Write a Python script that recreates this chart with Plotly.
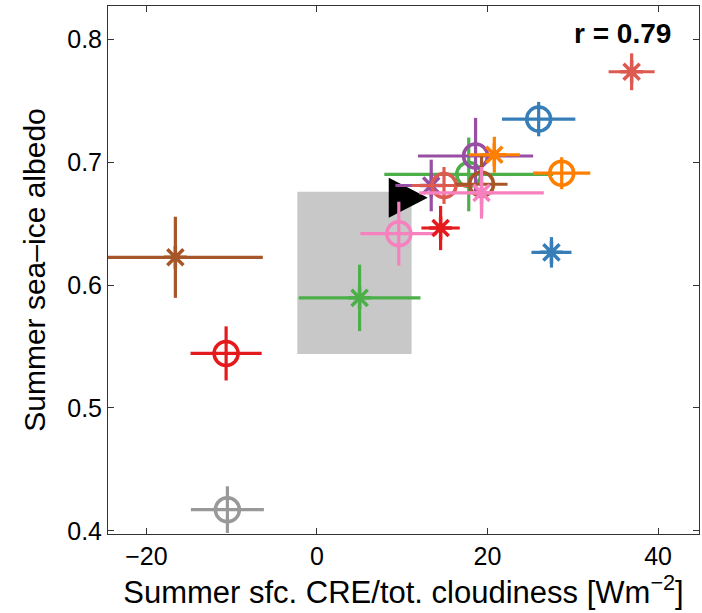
import plotly.graph_objects as go

# ---- data ----
cre       = [-10.5, -16.6, -10.65, 5.0, 9.6, 17.8, 18.6, 13.4, 14.9, 14.5, 19.3, 19.3, 20.8, 28.7, 26.0, 27.5, 36.9]
albedo    = [0.4173, 0.6226, 0.5444, 0.5896, 0.6418, 0.690, 0.705, 0.681, 0.681, 0.6464, 0.682, 0.675, 0.706, 0.691, 0.735, 0.6266, 0.7735]
cre_err   = [4.28, 10.25, 4.17, 7.14, 4.5, 9.9, 6.75, 4.2, 3.8, 2.25, 3.05, 7.3, 3.0, 3.35, 4.3, 2.35, 2.7]
alb_err   = [0.019, 0.033, 0.022, 0.027, 0.026, 0.030, 0.031, 0.021, 0.015, 0.018, 0.025, 0.021, 0.0146, 0.013, 0.014, 0.0124, 0.015]
kinds     = ["o", "x", "o", "x", "o", "o", "o", "x", "o", "x", "o", "x", "x", "o", "o", "x", "x"]
colors    = ["#999999", "#a65628", "#e41a1c", "#4daf4a", "#f781bf", "#4daf4a", "#984ea3", "#984ea3",
             "#dc5a50", "#e41a1c", "#a65628", "#f781bf", "#ff7f00", "#ff7f00", "#377eb8", "#377eb8", "#dc5a50"]

obs_point_cre = 10.3
obs_point_alb = 0.671
obs_cre_range = [-2.3, 11.1]
obs_alb_range = [0.544, 0.676]

x_ticks = [-20, 0, 20, 40]
y_ticks = [0.4, 0.5, 0.6, 0.7, 0.8]
corr_label = "r = 0.79"

fig = go.Figure()

# observational range box (below traces)
fig.add_shape(type="rect", xref="x", yref="y",
              x0=obs_cre_range[0], x1=obs_cre_range[1],
              y0=obs_alb_range[0], y1=obs_alb_range[1],
              fillcolor="#c8c8c8", line=dict(width=0), layer="below")

# observation marker: right-pointing triangle anchored at the data point (pixel-sized)
fig.add_shape(type="path", xref="x", yref="y",
              xsizemode="pixel", ysizemode="pixel",
              xanchor=obs_point_cre, yanchor=obs_point_alb,
              path="M -16 -20 L 23 0 L -16 20 Z",
              fillcolor="black", line=dict(width=0), layer="below")

symbol_map = {"o": ("circle-open", 24), "x": ("asterisk-open", 19)}
for xi, yi, ex, ey, k, c in zip(cre, albedo, cre_err, alb_err, kinds, colors):
    sym, sz = symbol_map[k]
    fig.add_trace(go.Scatter(
        x=[xi], y=[yi], mode="markers",
        marker=dict(symbol=sym, size=sz, color=c, line=dict(color=c, width=3.5)),
        error_x=dict(type="data", array=[ex], color=c, thickness=3.2, width=0),
        error_y=dict(type="data", array=[ey], color=c, thickness=3.2, width=0),
        showlegend=False, cliponaxis=True))

axis_common = dict(
    showline=True, linecolor="#333333", linewidth=1, mirror="ticks",
    ticks="inside", ticklen=6, tickcolor="#333333", tickwidth=1,
    showgrid=False, zeroline=False,
    tickfont=dict(family="Liberation Sans", size=25, color="black"),
)

fig.update_xaxes(range=[-24.5, 44.8], tickvals=x_ticks,
                 title=dict(text="Summer sfc. CRE/tot. cloudiness [Wm<sup>−2</sup>]",
                            font=dict(family="Liberation Sans", size=31, color="black"), standoff=12),
                 **axis_common)
fig.update_yaxes(range=[0.3975, 0.827], tickvals=y_ticks, tickformat=".1f",
                 title=dict(text="Summer sea–ice albedo",
                            font=dict(family="Liberation Sans", size=30, color="black"), standoff=12),
                 **axis_common)

fig.add_annotation(x=0.956, y=0.947, xref="paper", yref="paper", xanchor="right", yanchor="middle",
                   text="<b>" + corr_label + "</b>", showarrow=False,
                   font=dict(family="Liberation Sans", size=28, color="black"))

fig.update_layout(
    width=702, height=613,
    margin=dict(l=108, r=3, t=6, b=79),
    paper_bgcolor="white", plot_bgcolor="white",
)

fig.write_html("out.html")
